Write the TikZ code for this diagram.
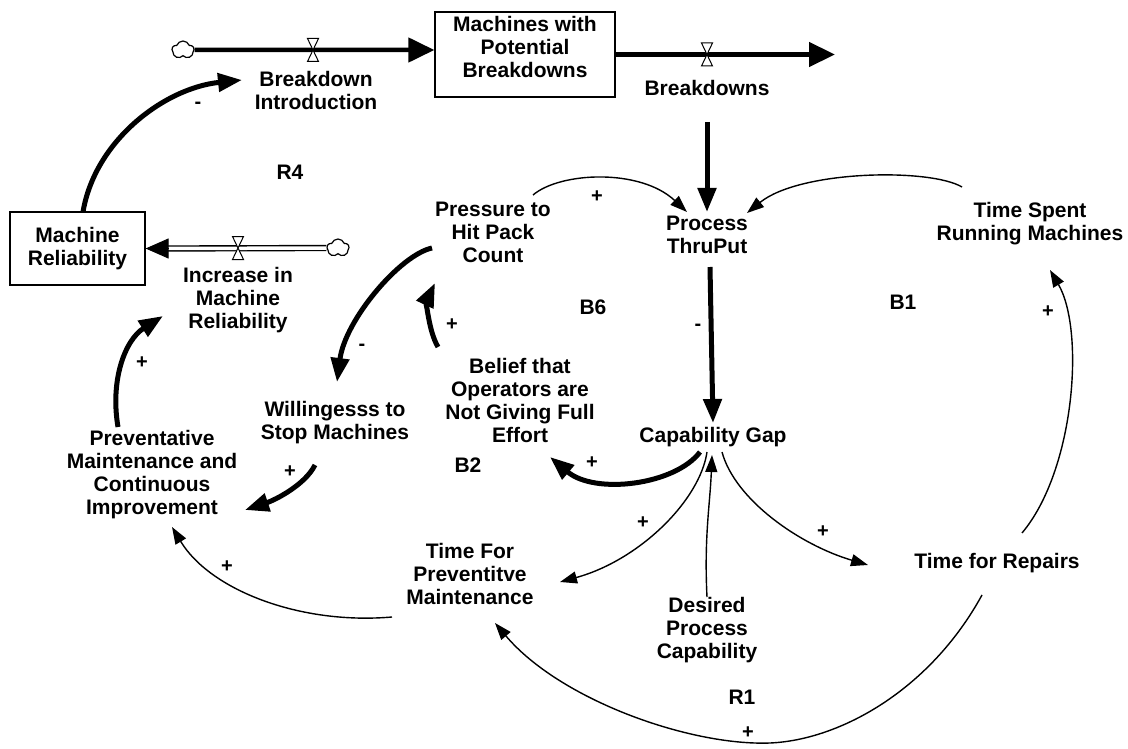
\documentclass[tikz,border=0pt]{standalone}
\usepackage{fontspec}
\setmainfont{Liberation Sans}
\usetikzlibrary{arrows.meta,shapes.symbols}
\begin{document}
\begin{tikzpicture}[x=1pt,y=-1pt,
  lbl/.style={font=\fontsize{21}{23}\selectfont\bfseries, align=center, inner sep=0pt},
  sgn/.style={font=\fontsize{20}{20}\selectfont\bfseries, inner sep=0pt},
  stockbox/.style={draw, line width=1.2pt},
  cloudnode/.style={cloud, draw, cloud puffs=5, cloud puff arc=140, line width=1.2pt,
    minimum width=22pt, minimum height=18pt, inner sep=0pt, fill=white},
  thin link/.style={line width=1.4pt, -{Triangle[length=17pt,width=12pt]}},
  thick link/.style={line width=5pt, -{Triangle[length=24pt,width=18pt]}},
  flowline/.style={line width=4.5pt, -{Triangle[length=26pt,width=24pt]}},
  dflow/.style={line width=1.4pt, double distance=3.5pt},
  valve/.pic={\draw[fill=white, line width=1pt] (-5.5,-11.5) -- (5.5,-11.5) -- (-5.5,11.5) -- (5.5,11.5) -- cycle;}
]
\useasboundingbox (0,0) rectangle (1128,749);

% stocks and their flows
\node[stockbox, minimum width=180pt, minimum height=85pt] (machPot) at (525,54.5) {};
\node[lbl] (machPotText) at (525,47) {Machines with\\Potential\\Breakdowns};
\node[stockbox, lbl, minimum width=135pt, minimum height=73pt] (machRel) at (77.5,248.5) {Machine\\Reliability};

\node[cloudnode] (cloudL) at (183,50) {};
\node[cloudnode] (cloudR) at (338,248) {};
\coordinate (bdEnd) at (835,54.5);

\draw[flowline] (cloudL.east) -- ([shift={(0,-4.5)}]machPot.west);
\draw[flowline] (machPot.east) -- (bdEnd);
\draw[dflow] (cloudR.west) -- ([xshift=22pt]machRel.east);
\draw[line width=1pt, -{Triangle[length=23pt,width=20pt]}] ([xshift=23pt]machRel.east) -- (machRel.east);

\pic (v1) at (313,50) {valve};
\pic (v2) at (707,54.5) {valve};
\pic (v3) at (238,248) {valve};

% auxiliaries
\node[lbl] (bi) at (316,90) {Breakdown\\Introduction};
\node[lbl] (bd) at (707,88) {Breakdowns};
\node[lbl] (imr) at (238,300) {Increase in\\Machine\\Reliability};
\node[lbl] (pressure) at (493,232) {Pressure to\\Hit Pack\\Count};
\node[lbl] (process) at (707,235) {Process\\ThruPut};
\node[lbl] (timeSpent) at (1030,224) {Time Spent\\Running Machines};
\node[lbl] (belief) at (520,400) {Belief that\\Operators are\\Not Giving Full\\Effort};
\node[lbl] (willing) at (335,423) {Willingesss to\\Stop Machines};
\node[lbl] (capgap) at (713,437) {Capability Gap};
\node[lbl] (prevMaint) at (152,475) {Preventative\\Maintenance and\\Continuous\\Improvement};
\node[lbl] (tfpm) at (470,574) {Time For\\Preventitve\\Maintenance};
\node[lbl] (tfr) at (997,563) {Time for Repairs};
\node[lbl] (desired) at (707,630) {Desired\\Process\\Capability};

% loop identifiers
\node[lbl] (loopR4) at (290,172) {R4};
\node[lbl] (loopB6) at (593,307) {B6};
\node[lbl] (loopB1) at (903,302) {B1};
\node[lbl] (loopB2) at (468,465) {B2};
\node[lbl] (loopR1) at (742,697) {R1};

% causal links
\draw[thick link] ([shift={(5.5,-36.5)}]machRel.center) .. controls +(12,-72) and +(-77,8) .. ([shift={(-74,-10)}]bi.center);
\draw[thin link] ([shift={(40,-37)}]pressure.center) .. controls +(27,-23) and +(-47,-44) .. ([shift={(-20,-23)}]process.center);
\draw[thin link] ([shift={(-68,-37)}]timeSpent.center) .. controls +(-32,-19) and +(53,-43) .. ([shift={(40,-22)}]process.center);
\draw[thick link] ([shift={(0,34)}]bd.center) -- ([shift={(0,-23)}]process.center);
\draw[thick link] ([shift={(3,32)}]process.center) -- ([shift={(0,-14)}]capgap.center);
\draw[thick link] ([shift={(-13,15)}]capgap.center) .. controls +(-25,33) and +(45,38) .. ([shift={(30,57)}]belief.center);
\draw[thick link] ([shift={(-82,-53)}]belief.center) .. controls +(-10,-17) and +(-8,17) .. ([shift={(-58,51)}]pressure.center);
\draw[thick link] ([shift={(-61,16)}]pressure.center) .. controls +(-32,7) and +(8,-62) .. ([shift={(2,-41)}]willing.center);
\draw[thick link] ([shift={(-20,42)}]willing.center) .. controls +(-10,20) and +(30,-10) .. ([shift={(93,35)}]prevMaint.center);
\draw[thick link] ([shift={(-34,-48)}]prevMaint.center) .. controls +(-8,-47) and +(-38,24) .. ([shift={(-75,16)}]imr.center);
\draw[thin link] ([shift={(-78,43)}]tfpm.center) .. controls +(-92,8) and +(38,63) .. ([shift={(20,52)}]prevMaint.center);
\draw[thin link] ([shift={(-6,15)}]capgap.center) .. controls +(-7,48) and +(80,-22) .. ([shift={(90,8)}]tfpm.center);
\draw[thin link] ([shift={(9,15)}]capgap.center) .. controls +(13,48) and +(-68,-20) .. ([shift={(-129,2)}]tfr.center);
\draw[thin link] ([shift={(0,-33)}]desired.center) .. controls +(-3,-60) and +(-2,50) .. ([shift={(-1,18)}]capgap.center);
\draw[thin link] ([shift={(25,-30)}]tfr.center) .. controls +(53,-63) and +(35,60) .. ([shift={(20,46)}]timeSpent.center);
\draw[thin link] ([shift={(-15,32)}]tfr.center) .. controls +(-52,95) and +(70,-3) .. ++(-212,148)
  .. controls +(-80,3) and +(65,77) .. ([shift={(25,49)}]tfpm.center);

% link polarities
\node[sgn] (s1) at (198,105) {-};
\node[sgn] (s2) at (597,197) {+};
\node[sgn] (s3) at (452,325) {+};
\node[sgn] (s4) at (362,347) {-};
\node[sgn] (s5) at (698,327) {-};
\node[sgn] (s6) at (592,463) {+};
\node[sgn] (s7) at (290,472) {+};
\node[sgn] (s8) at (142,363) {+};
\node[sgn] (s9) at (227,567) {+};
\node[sgn] (s10) at (643,523) {+};
\node[sgn] (s11) at (823,532) {+};
\node[sgn] (s12) at (1048,312) {+};
\node[sgn] (s13) at (748,733) {+};
\end{tikzpicture}
\end{document}
